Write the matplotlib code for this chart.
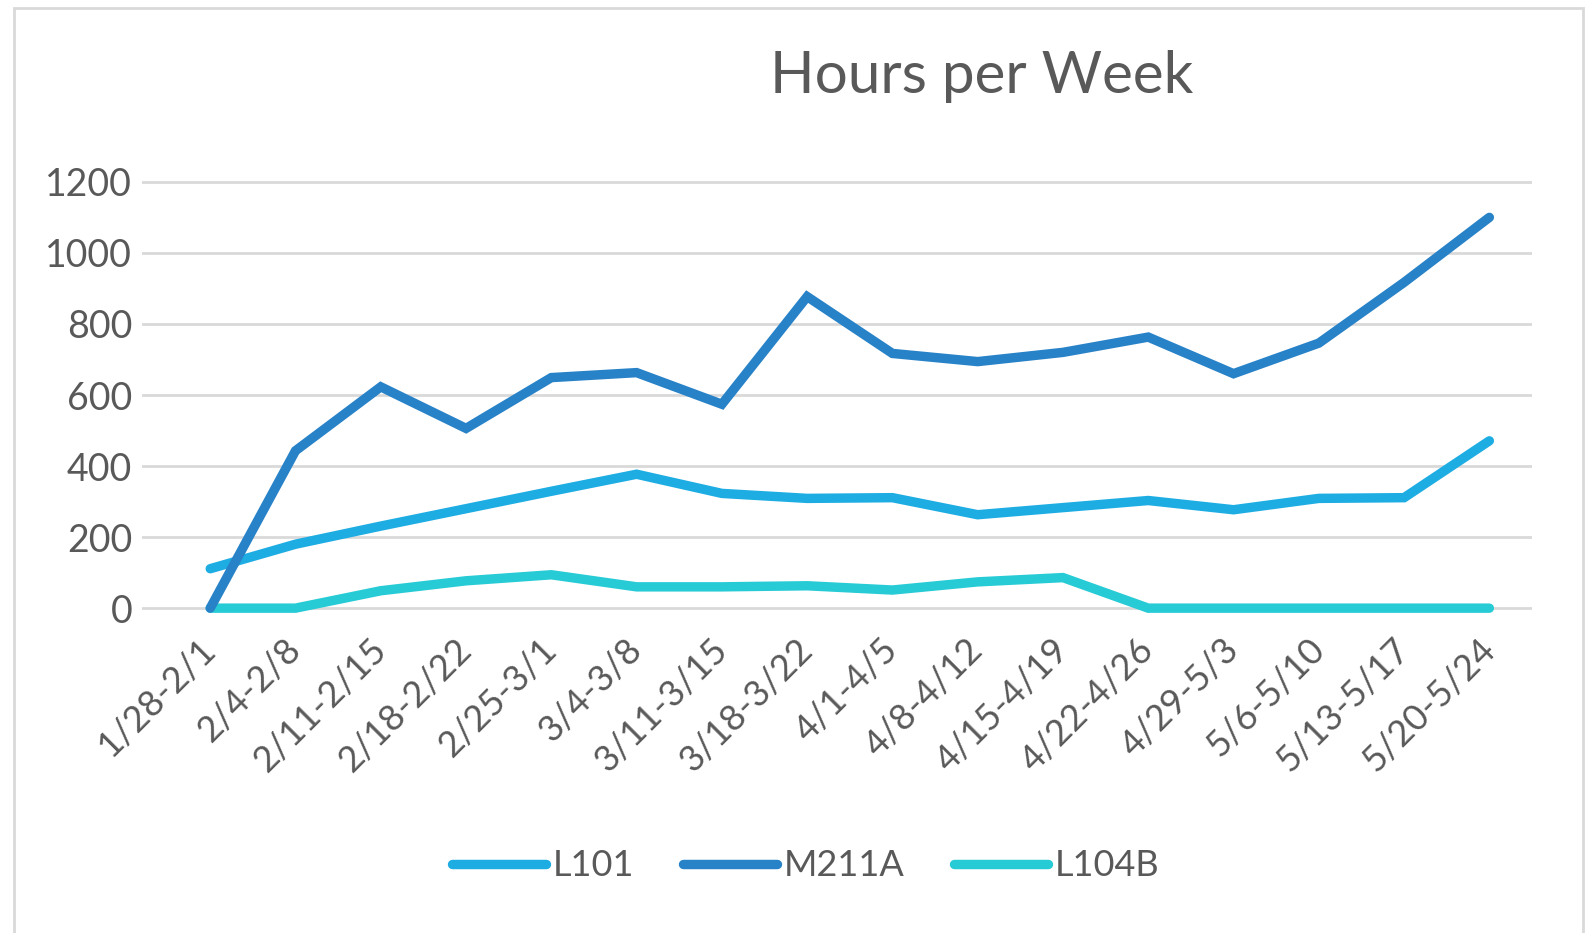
import matplotlib.pyplot as plt
from matplotlib.patches import Rectangle

weeks = ["1/28-2/1", "2/4-2/8", "2/11-2/15", "2/18-2/22", "2/25-3/1", "3/4-3/8",
         "3/11-3/15", "3/18-3/22", "4/1-4/5", "4/8-4/12", "4/15-4/19", "4/22-4/26",
         "4/29-5/3", "5/6-5/10", "5/13-5/17", "5/20-5/24"]
l101 = [111, 180, 231, 280, 329, 377, 323, 309, 311, 263, 283, 303, 277, 309, 311, 471]
m211a = [0, 443, 623, 506, 649, 663, 574, 877, 717, 694, 720, 763, 660, 746, 917, 1100]
l104b = [0, 0, 49, 77, 94, 60, 60, 63, 51, 74, 86, 0, 0, 0, 0, 0]

plt.rcParams['font.family'] = ['Lato', 'DejaVu Sans']
txt = "#595959"

fig = plt.figure(figsize=(15.89, 9.33), dpi=100)
# outer chart border
fig.patches.append(Rectangle((14/1589, -0.01), 1569/1589, 1 - 8/933 + 0.01,
                             transform=fig.transFigure, fill=False,
                             edgecolor="#D9D9D9", lw=2))

ax = fig.add_axes([142/1589, 1 - 611/933, (1532 - 142)/1589, (611 - 179)/933])
x = list(range(len(weeks)))
lw = 6.8
ax.plot(x, l101, color="#1EADE3", lw=lw, solid_capstyle="round", solid_joinstyle="miter", label="L101", clip_on=False, zorder=3)
ax.plot(x, m211a, color="#2882C8", lw=lw, solid_capstyle="round", solid_joinstyle="miter", label="M211A", clip_on=False, zorder=4)
ax.plot(x, l104b, color="#26CBD5", lw=lw, solid_capstyle="round", solid_joinstyle="miter", label="L104B", clip_on=False, zorder=2)

ax.set_xlim(-0.8, 15.5)
ax.set_ylim(-8, 1208)
ax.set_yticks(range(0, 1201, 200))
ax.set_xticks(x)
ax.set_xticklabels(weeks, rotation=45, ha="right", va="center", rotation_mode="anchor")
ax.grid(axis="y", color="#D9D9D9", lw=2)
ax.set_axisbelow(True)
for s in ax.spines.values():
    s.set_visible(False)
ax.tick_params(length=0, labelsize=26, colors=txt)
ax.tick_params(axis="y", labelsize=27, pad=7)
ax.tick_params(axis="x", pad=24)

fig.text(0.618, 0.918, "Hours per Week", ha="center", va="center", fontsize=42, color=txt)

leg = fig.legend(loc="center", bbox_to_anchor=(0.507, 0.072), ncol=3, frameon=False,
                 fontsize=26, handlelength=2.6, handletextpad=0.2, columnspacing=1.35)
for t in leg.get_texts():
    t.set_color(txt)
for h in leg.get_lines():
    h.set_linewidth(lw)

fig.savefig("out.png", dpi=100)
